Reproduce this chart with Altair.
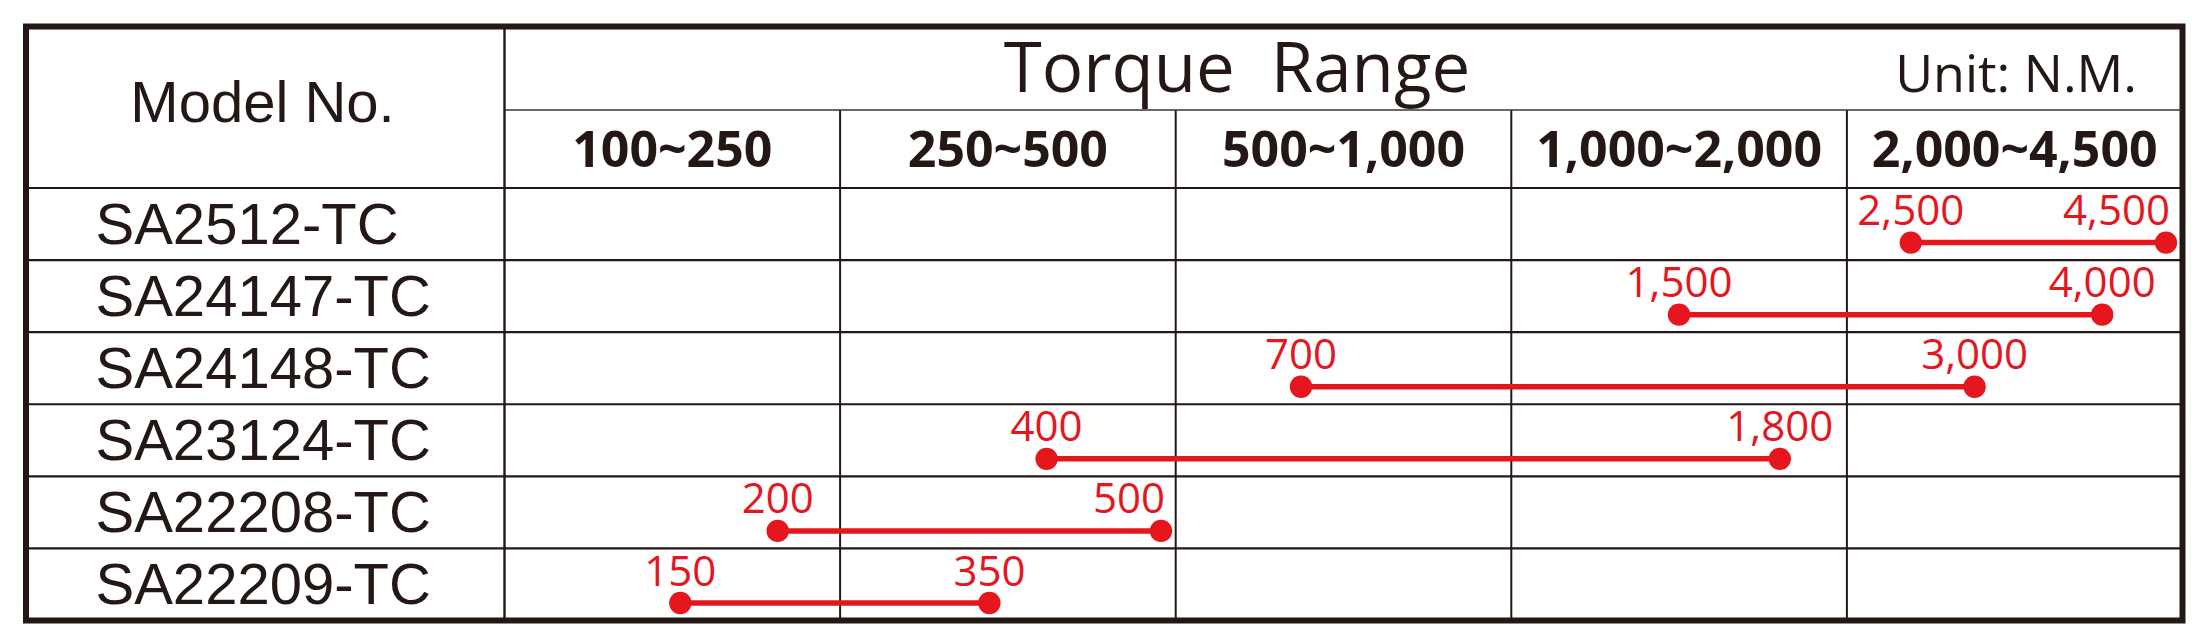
import altair as alt
import pandas as pd

# ---------------- data ----------------
models = ["SA2512-TC", "SA24147-TC", "SA24148-TC", "SA23124-TC", "SA22208-TC", "SA22209-TC"]
torque_min = [2500, 1500, 700, 400, 200, 150]
torque_max = [4500, 4000, 3000, 1800, 500, 350]
range_labels = ["100~250", "250~500", "500~1,000", "1,000~2,000", "2,000~4,500"]
range_bounds = [100, 250, 500, 1000, 2000, 4500]

# ---------------- style / layout ----------------
INK = "#231815"
RED = "#e5161d"
W, H = 2156.5, 594          # plot area = the outer frame
HEAD1 = 83.5                # line under "Torque Range"
ROW0 = 161.5                # top of first model row
MODEL_COL = 478.5           # right edge of "Model No." column

data_df = pd.DataFrame({"model": models, "min": torque_min, "max": torque_max})
col_df = pd.DataFrame({"col": list(range(len(range_labels))), "label": range_labels})
models_df = pd.DataFrame({"model": models})
one = alt.Data(values=[{"k": 1}])

y_scale = alt.Scale(domain=models, range=[ROW0, H], paddingInner=0, paddingOuter=0)
col_scale = alt.Scale(domain=[0, len(range_labels)], range=[MODEL_COL, W], nice=False, zero=False)
torque_scale = alt.Scale(type="linear", domain=range_bounds,
                         range=[557, 849, 1135, 1485, 1821, 2140], nice=False, zero=False)

yaxis = alt.Axis(orient="left", offset=-69, labelAlign="left", labelBaseline="alphabetic",
                 labelOffset=20, labelPadding=0, ticks=False, tickSize=0, domain=False,
                 grid=False, title=None, labelFont="Liberation Sans", labelFontSize=58,
                 labelColor=INK, labelLimit=0, labelOverlap=False)


def Y(band):
    return alt.Y("model:N", scale=y_scale, axis=yaxis, sort=models, bandPosition=band)


# ---------------- table structure ----------------
row_lines = alt.Chart(models_df).mark_rule(color=INK, strokeWidth=2.2).encode(
    y=Y(0), x=alt.value(0), x2=alt.value(W))

model_divider = alt.Chart(col_df).transform_filter("datum.col == 0").mark_rule(
    color=INK, strokeWidth=2.4).encode(
    x=alt.X("col:Q", scale=col_scale, axis=None), y=alt.value(0), y2=alt.value(H))

col_lines = alt.Chart(col_df).transform_filter("datum.col > 0").mark_rule(
    color=INK, strokeWidth=2.0).encode(
    x=alt.X("col:Q", scale=col_scale, axis=None), y=alt.value(HEAD1), y2=alt.value(H))

head_line = alt.Chart(one).mark_rule(color="#3a3433", strokeWidth=1.6).encode(
    x=alt.value(MODEL_COL), x2=alt.value(W), y=alt.value(HEAD1))

range_text = alt.Chart(col_df).transform_calculate(mid="datum.col + 0.5").mark_text(
    font="Open Sans", fontWeight="bold", fontSize=50, color=INK,
    align="center", baseline="alphabetic").encode(
    x=alt.X("mid:Q", scale=col_scale, axis=None), y=alt.value(140.5), text="label:N")

model_title = alt.Chart(one).mark_text(
    text="Model No.", font="Liberation Sans", fontSize=58, color=INK,
    align="center", baseline="alphabetic").encode(x=alt.value(236.5), y=alt.value(95.5))

torque_title = alt.Chart(one).mark_text(
    text="Torque\u00a0\u00a0Range", font="Open Sans", fontSize=69, color=INK,
    align="center", baseline="alphabetic").encode(x=alt.value(1211), y=alt.value(65.5))

unit_title = alt.Chart(one).mark_text(
    text="Unit: N.M.", font="Open Sans", fontSize=52, color=INK,
    align="right", baseline="alphabetic").encode(x=alt.value(2111), y=alt.value(65.5))

# ---------------- torque ranges ----------------
bars = alt.Chart(data_df).mark_rule(color=RED, strokeWidth=5.5).encode(
    x=alt.X("min:Q", scale=torque_scale, axis=None), x2="max:Q", y=Y(0.757))

long = alt.Chart(data_df).transform_fold(["min", "max"], as_=["end", "value"])

dots = long.mark_circle(color=RED, size=500, opacity=1).encode(
    x=alt.X("value:Q", scale=torque_scale, axis=None), y=Y(0.757))

upper_bounds = ", ".join(str(b) for b in range_bounds[1:])
at_edge = f"datum.end == 'max' && indexof([{upper_bounds}], datum.value) >= 0"

labels_c = long.transform_filter(f"!({at_edge})").mark_text(
    font="Open Sans", fontSize=42, color=RED, align="center", baseline="alphabetic").encode(
    x=alt.X("value:Q", scale=torque_scale, axis=None), y=Y(0.515),
    text=alt.Text("value:Q", format=","))

labels_r = long.transform_filter(at_edge).mark_text(
    font="Open Sans", fontSize=42, color=RED, align="right", baseline="alphabetic", dx=4).encode(
    x=alt.X("value:Q", scale=torque_scale, axis=None), y=Y(0.515),
    text=alt.Text("value:Q", format=","))

chart = alt.layer(
    row_lines, model_divider, col_lines, head_line, range_text,
    model_title, torque_title, unit_title,
    bars, dots, labels_c, labels_r,
).resolve_scale(x="independent").properties(
    width=W, height=H,
    autosize=alt.AutoSizeParams(type="none"),
    padding={"left": 18, "top": 18.5, "right": 15, "bottom": 10},
    background="white",
).configure_view(stroke=INK, strokeWidth=6)

chart.save("out.html", embed_options={"renderer": "svg", "actions": False})
